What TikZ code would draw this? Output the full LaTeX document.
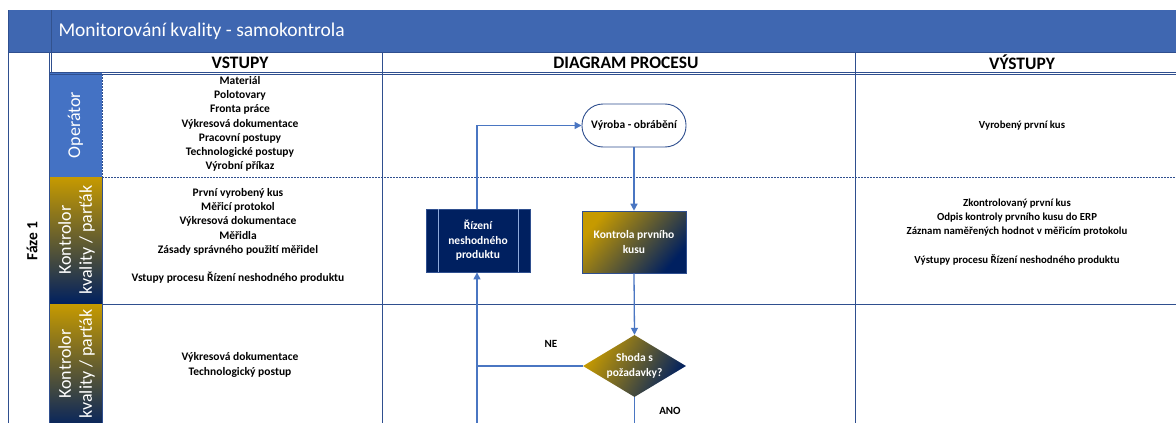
\documentclass[tikz,border=0pt]{standalone}
\usepackage{fontspec}
\setmainfont{Carlito}
\usetikzlibrary{shapes.geometric,arrows.meta}
\definecolor{hdrblue}{HTML}{3F67B1}
\definecolor{gridblue}{HTML}{2F4F8F}
\definecolor{lanebl}{HTML}{4472C4}
\definecolor{gold}{HTML}{C69A00}
\definecolor{navy}{HTML}{002060}
\definecolor{arrowbl}{HTML}{4A76C2}
\definecolor{innerln}{HTML}{8FAADC}
\begin{document}
\begin{tikzpicture}[x=1pt,y=-1pt,
  gridline/.style={draw=gridblue,line width=0.9pt},
  dashline/.style={draw=gridblue,line width=0.9pt,dash pattern=on 2pt off 1pt},
  colhead/.style={font=\fontsize{17.5}{20}\bfseries\selectfont,text=black},
  body/.style={font=\fontsize{11.5}{14.2}\bfseries\selectfont,align=center,text=black},
  bodyout/.style={font=\fontsize{10.8}{14.2}\bfseries\selectfont,align=center,text=black},
  lanetext/.style={rotate=90,text=white,font=\fontsize{18}{21}\selectfont,align=center},
  flow/.style={draw=arrowbl,line width=1.3pt,-{Triangle[length=7pt,width=7pt]}},
  flowline/.style={draw=arrowbl,line width=1.3pt},
  procbox/.style={font=\fontsize{11.5}{14.5}\bfseries\selectfont,align=center,text=white,
    minimum width=104,minimum height=63,inner sep=2pt},
  terminal/.style={draw=gridblue,line width=0.9pt,fill=white,rounded corners=21pt,
    minimum width=104,minimum height=43,font=\fontsize{11.5}{14}\bfseries\selectfont},
  decision/.style={diamond,aspect=1.66,inner sep=0pt,minimum width=103,minimum height=62,
    font=\fontsize{11.5}{15}\bfseries\selectfont,align=center,text=white},
  edgelabel/.style={font=\fontsize{11}{13}\bfseries\selectfont,text=black}
]
\useasboundingbox (0,0) rectangle (1176,423);
\fill[white] (0,0) rectangle (1176,423);

% title band
\fill[hdrblue] (8,10) rectangle (1180,52);
\draw[draw=hdrblue!80!black,line width=0.6pt] (51,10) -- (51,52);
\node[anchor=west,text=white,font=\fontsize{19.5}{23}\selectfont] (title) at (55,31) {Monitorování kvality - samokontrola};

% swimlane labels
\fill[lanebl] (49,72) rectangle (102,177);
\shade[top color=gold,bottom color=navy] (49,177) rectangle (102,304);
\shade[top color=gold,bottom color=navy] (49,304) rectangle (102,430);

% table grid
\draw[gridline] (8,10) -- (8,430);
\draw[gridline] (49,52) -- (49,430);
\draw[gridline] (51.5,52) -- (51.5,72);
\draw[gridline] (8,52) -- (1180,52);
\draw[gridline] (49,72) -- (1180,72);
\draw[gridline] (49,74) -- (1180,74);
\draw[gridline] (382,52) -- (382,430);
\draw[gridline] (855,52) -- (855,430);
\draw[dashline] (102,74) -- (102,177);
\draw[gridline] (102,177) -- (102,430);
\draw[dashline] (102,177) -- (1180,177);
\draw[gridline] (102,304) -- (1180,304);

% column headings
\node[colhead] (hvstupy) at (240,62.5) {VSTUPY};
\node[colhead] (hdiagram) at (626,62.5) {DIAGRAM PROCESU};
\node[colhead] (hvystupy) at (1022,62.5) {VÝSTUPY};

% phase and lane names
\node[rotate=90,font=\fontsize{15.5}{18}\bfseries\selectfont] (faze) at (32,241) {Fáze 1};
\node[lanetext] (laneop) at (75.5,125) {Operátor};
\node[lanetext] (lanekk) at (76.5,240) {Kontrolor\\kvality / parťák};
\node[lanetext] (lanekk2) at (76.5,364) {Kontrolor\\kvality / parťák};

% inputs
\node[body] (in1) at (240,124) {Materiál\\Polotovary\\Fronta práce\\Výkresová dokumentace\\Pracovní postupy\\Technologické postupy\\Výrobní příkaz};
\node[body] (in2) at (238,236) {První vyrobený kus\\Měřicí protokol\\Výkresová dokumentace\\Měřidla\\Zásady správného použití měřidel\\[14.2pt]Vstupy procesu Řízení neshodného produktu};
\node[body] (in3) at (240,365) {Výkresová dokumentace\\Technologický postup};

% outputs
\node[bodyout] (out1) at (1022,126) {Vyrobený první kus};
\node[bodyout] (out2) at (1017,232) {Zkontrolovaný první kus\\Odpis kontroly prvního kusu do ERP\\Záznam naměřených hodnot v měřicím protokolu\\[14.2pt]Výstupy procesu Řízení neshodného produktu};

% process flow
\node[terminal] (vyroba) at (634,125.5) {Výroba - obrábění};
\node[procbox,draw=gridblue,line width=0.8pt,fill=navy] (rizeni) at (478,240.5) {Řízení\\neshodného\\produktu};
\draw[innerln,line width=0.7pt] ([xshift=12.5]rizeni.north west) -- ([xshift=12.5]rizeni.south west);
\draw[innerln,line width=0.7pt] ([xshift=-12.5]rizeni.north east) -- ([xshift=-12.5]rizeni.south east);
\node[procbox,draw=gridblue,line width=0.6pt,top color=gold,bottom color=navy,shading angle=50,minimum height=62] (kontrola) at (634,242) {Kontrola prvního\\kusu};
\node[decision,top color=gold,bottom color=navy,shading angle=60] (shoda) at (634.5,366) {Shoda s\\požadavky?};

\coordinate (nebot) at (477,430);
\coordinate (anobot) at (634.5,430);

\draw[flow] (vyroba.south) -- (kontrola.north);
\draw[flow] (kontrola.south) -- (shoda.north);
\draw[flow] (rizeni.north -| 477,0) |- (vyroba.west);
\draw[flowline] (shoda.west) -- (shoda.west -| nebot);
\draw[flow] (nebot) -- (rizeni.south -| nebot);
\draw[flowline] (shoda.south) -- (anobot);

\node[edgelabel] (ne) at (551,344) {NE};
\node[edgelabel] (ano) at (670,411) {ANO};
\end{tikzpicture}
\end{document}
